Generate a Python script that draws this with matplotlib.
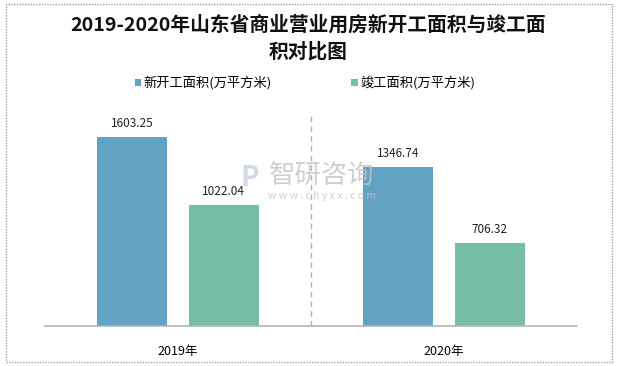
import matplotlib
matplotlib.use("Agg")
import matplotlib.pyplot as plt
from matplotlib.patches import Rectangle
import numpy as np

plt.rcParams['font.family'] = ['Noto Sans CJK SC', 'DejaVu Sans']

categories = ["2019年", "2020年"]
series_names = ["新开工面积(万平方米)", "竣工面积(万平方米)"]
new_start = [1603.25, 1346.74]
completed = [1022.04, 706.32]
colors = ["#62a3c4", "#76bfa6"]

W, H = 617, 366
fig = plt.figure(figsize=(W/100, H/100), dpi=100)
fig.patches.append(Rectangle((6/W, 4/H), 606/W, 358/H, transform=fig.transFigure,
                             fill=False, edgecolor="#a0a0a0", linewidth=1, linestyle=(0, (1, 1))))

ax = fig.add_axes([45/W, (H-326)/H, 532/W, (326-112)/H])
x = np.arange(len(categories))
width = 0.263
off = 0.172
b1 = ax.bar(x - off, new_start, width, color=colors[0], label=series_names[0])
b2 = ax.bar(x + off, completed, width, color=colors[1], label=series_names[1])
ax.set_xlim(-0.5, 1.5)
ax.set_ylim(0, 1815)
for bars in (b1, b2):
    for r in bars:
        ax.text(r.get_x() + r.get_width()/2, r.get_height() + 60, f"{r.get_height():.2f}",
                ha="center", va="bottom", fontsize=8.5, color="#222222")
ax.axvline(0.5, color="#b0b0b0", linestyle=(0, (4, 3)), linewidth=1)
for s in ["top", "right", "left"]:
    ax.spines[s].set_visible(False)
ax.spines["bottom"].set_color("#b4b4b4")
ax.spines["bottom"].set_linewidth(1.2)
ax.set_yticks([])
ax.set_xticks(x)
ax.set_xticklabels(categories, fontsize=9)
ax.tick_params(axis="x", length=0, pad=14)

fig.text(0.5, 1 - 25/H, "2019-2020年山东省商业营业用房新开工面积与竣工面", ha="center", va="center",
         fontsize=14.2, fontweight="bold", color="#111111")
fig.text(0.5, 1 - 52/H, "积对比图", ha="center", va="center",
         fontsize=14.2, fontweight="bold", color="#111111")

leg = fig.legend(handles=[b1, b2], labels=series_names, loc="center", bbox_to_anchor=(305/W, 1 - 83/H),
                 ncol=2, frameon=False, fontsize=9.5, handlelength=0.5, handleheight=0.5,
                 handletextpad=0.2, columnspacing=6.0)

fig.text(322/W, 1 - 175/H, "智研咨询", ha="center", va="center", fontsize=19, color="#c4c4c4", alpha=0.8)
fig.text(322/W, 1 - 196/H, "w w w . c h y x x . c o m", ha="center", va="center", fontsize=7.5, color="#c4c4c4", alpha=0.8)
fig.text(250/W, 1 - 178/H, "P", ha="center", va="center", fontsize=20, fontweight="bold", color="#c8d0e0", alpha=0.8)

fig.savefig("out.png", dpi=100)
